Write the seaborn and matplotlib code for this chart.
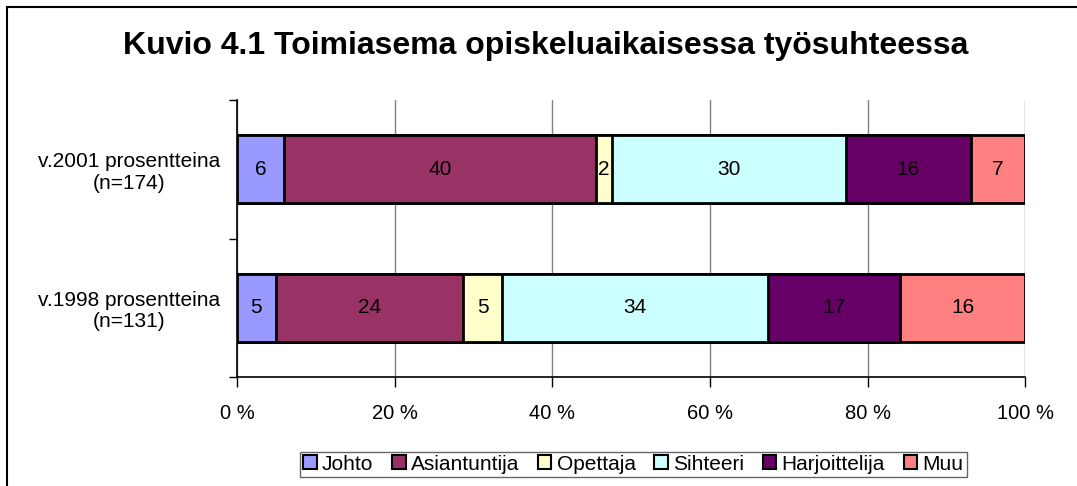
import pandas as pd
import matplotlib.pyplot as plt
import seaborn as sns
import numpy as np
from matplotlib.patches import Rectangle, Patch

# data
groups = ['v.2001 prosentteina\n(n=174)', 'v.1998 prosentteina\n(n=131)']
roles = ['Johto', 'Asiantuntija', 'Opettaja', 'Sihteeri', 'Harjoittelija', 'Muu']
v2001 = [6, 40, 2, 30, 16, 7]
v1998 = [5, 24, 5, 34, 17, 16]
colors = ['#9999FF', '#993366', '#FFFFCC', '#CCFFFF', '#660066', '#FF8080']

sns.set_theme(style='white')
plt.rcParams['font.family'] = ['Liberation Sans', 'DejaVu Sans']
plt.rcParams['text.color'] = 'black'
plt.rcParams['xtick.color'] = 'black'
plt.rcParams['ytick.color'] = 'black'

df = pd.DataFrame([v2001, v1998], columns=roles)
df.insert(0, 'group', groups)

# 100 % stacked -> normalise every row by its own sum
vals = df[roles].astype(float)
pct = vals.div(vals.sum(axis=1), axis=0) * 100
cum = pct.cumsum(axis=1)

fig = plt.figure(figsize=(10.77, 4.86), dpi=100)
ax = fig.add_axes([0.220, 0.224, 0.732, 0.570])

# draw cumulative bars from widest to narrowest so they stack
for role, col in reversed(list(zip(roles, colors))):
    plot_df = pd.DataFrame({'group': groups, 'x': cum[role].values})
    sns.barplot(data=plot_df, x='x', y='group', color=col, width=0.49,
                edgecolor='black', linewidth=2, saturation=1, ax=ax, zorder=3)

# value labels in the middle of each segment
for i in range(len(groups)):
    left = 0
    for role in roles:
        w = pct.loc[i, role]
        ax.text(left + w / 2, i, str(int(vals.loc[i, role])), ha='center',
                va='center', fontsize=15, color='black', zorder=5)
        left += w

ax.set_xlim(0, 100)
ax.set_ylim(1.5, -0.5)
ax.set_xticks(np.arange(0, 101, 20))
ax.set_xticklabels([f'{t} %' for t in range(0, 101, 20)], fontsize=14.5)
ax.xaxis.grid(True, color='#808080', linewidth=1, zorder=0)
ax.set_axisbelow(True)
ax.set_xlabel('')
ax.set_ylabel('')

ax.set_yticks([0, 1])
ax.set_yticklabels(groups, fontsize=15, linespacing=1.15)
for lab in ax.get_yticklabels():
    lab.set_multialignment('center')
ax.set_yticks([-0.5, 0.5, 1.5], minor=True)
ax.tick_params(axis='y', which='major', length=0, pad=12)
ax.tick_params(axis='y', which='minor', length=6, width=1, color='black', direction='out', left=True)
ax.tick_params(axis='x', length=7, width=1, color='black', direction='out', bottom=True, pad=12)

for s in ['top', 'right']:
    ax.spines[s].set_visible(False)
for s in ['left', 'bottom']:
    ax.spines[s].set_color('black')
    ax.spines[s].set_linewidth(1.2)

fig.suptitle('Kuvio 4.1 Toimiasema opiskeluaikaisessa työsuhteessa',
             x=0.507, y=0.905, va='center', fontsize=23, fontweight='bold', color='black')

handles = [Patch(facecolor=c, edgecolor='black', linewidth=1.5) for c in colors]
leg = fig.legend(handles, roles, loc='center', bbox_to_anchor=(0.588, 0.045), ncol=6,
                 fontsize=15, frameon=True, fancybox=False, handlelength=0.65,
                 handleheight=0.65, handletextpad=0.25, columnspacing=0.9,
                 borderpad=0.15, borderaxespad=0)
leg.get_frame().set_edgecolor('#404040')
leg.get_frame().set_linewidth(1)

# outer chart border
fig.patches.append(Rectangle((7 / 1077, -0.05), 1.2, 1 - 7 / 486 + 0.05,
                             transform=fig.transFigure, fill=False,
                             edgecolor='black', linewidth=1.5))

fig.savefig('out.png', dpi=100)
